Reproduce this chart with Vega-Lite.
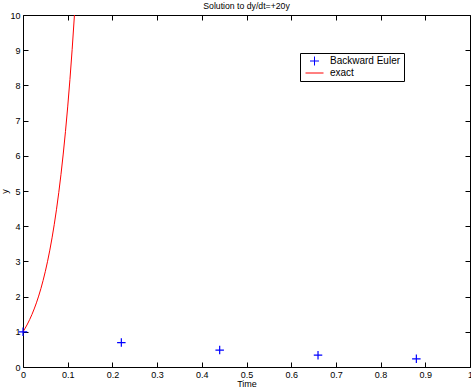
{
  "$schema": "https://vega.github.io/schema/vega-lite/v6.json",
  "width": 447,
  "height": 352,
  "autosize": "none",
  "padding": {"left": 23, "top": 15, "right": 1, "bottom": 25},
  "background": "white",
  "title": {"text": "Solution to dy/dt=+20y", "fontSize": 8.7, "font": "Liberation Sans", "fontWeight": "normal", "offset": 0, "color": "black", "anchor": "middle"},
  "config": {
    "view": {"stroke": null},
    "axis": {"labelFont": "Liberation Sans", "labelFontSize": 9, "labelColor": "black", "titleFont": "Liberation Sans", "titleFontSize": 9, "titleFontWeight": "normal", "titleColor": "black", "domainColor": "black", "tickColor": "black", "grid": false, "tickSize": -5, "domainWidth": 1, "tickWidth": 1}
  },
  "datasets": {
    "exact": [
      {"t": 0, "y": 1, "series": "exact"},
      {"t": 0.005, "y": 1.105, "series": "exact"},
      {"t": 0.01, "y": 1.221, "series": "exact"},
      {"t": 0.015, "y": 1.35, "series": "exact"},
      {"t": 0.02, "y": 1.492, "series": "exact"},
      {"t": 0.025, "y": 1.649, "series": "exact"},
      {"t": 0.03, "y": 1.822, "series": "exact"},
      {"t": 0.035, "y": 2.014, "series": "exact"},
      {"t": 0.04, "y": 2.226, "series": "exact"},
      {"t": 0.045, "y": 2.46, "series": "exact"},
      {"t": 0.05, "y": 2.718, "series": "exact"},
      {"t": 0.055, "y": 3.004, "series": "exact"},
      {"t": 0.06, "y": 3.32, "series": "exact"},
      {"t": 0.065, "y": 3.669, "series": "exact"},
      {"t": 0.07, "y": 4.055, "series": "exact"},
      {"t": 0.075, "y": 4.482, "series": "exact"},
      {"t": 0.08, "y": 4.953, "series": "exact"},
      {"t": 0.085, "y": 5.474, "series": "exact"},
      {"t": 0.09, "y": 6.05, "series": "exact"},
      {"t": 0.095, "y": 6.686, "series": "exact"},
      {"t": 0.1, "y": 7.389, "series": "exact"},
      {"t": 0.105, "y": 8.166, "series": "exact"},
      {"t": 0.11, "y": 9.025, "series": "exact"},
      {"t": 0.1151, "y": 10.0, "series": "exact"}
    ],
    "euler": [
      {"t": 0, "y": 1, "series": "Backward Euler"},
      {"t": 0.22, "y": 0.694, "series": "Backward Euler"},
      {"t": 0.44, "y": 0.482, "series": "Backward Euler"},
      {"t": 0.66, "y": 0.335, "series": "Backward Euler"},
      {"t": 0.88, "y": 0.233, "series": "Backward Euler"}
    ]
  },
  "layer": [
    {
      "data": {"name": "exact"},
      "mark": {"type": "line", "strokeWidth": 1, "clip": true},
      "encoding": {
        "x": {"field": "t", "type": "quantitative", "scale": {"domain": [0, 1], "nice": false}, "axis": {"title": "Time", "format": "~g", "values": [0,0.1,0.2,0.3,0.4,0.5,0.6,0.7,0.8,0.9,1], "labelPadding": 8, "titlePadding": 0, "labelFlush": false, "labelOverlap": false}},
        "y": {"field": "y", "type": "quantitative", "scale": {"domain": [0, 10], "nice": false}, "axis": {"title": "y", "values": [0,1,2,3,4,5,6,7,8,9,10], "labelPadding": 8, "titlePadding": 0, "labelFlush": false, "labelOverlap": false}},
        "color": {"field": "series", "type": "nominal", "scale": {"domain": ["Backward Euler", "exact"], "range": ["blue", "red"]},
          "legend": {"title": null, "orient": "none", "legendX": 277, "legendY": 38, "strokeColor": "black", "fillColor": "white", "padding": 3, "symbolSize": 81, "symbolOffset": 6.5, "labelFont": "Liberation Sans", "labelFontSize": 10, "labelColor": "black", "symbolStrokeWidth": 1, "rowPadding": 0, "labelOffset": 10.5}},
        "shape": {"field": "series", "type": "nominal", "scale": {"domain": ["Backward Euler", "exact"], "range": ["M-1,0L1,0M0,-1L0,1", "M-2,0L2,0"]}, "legend": null}
      }
    },
    {
      "data": {"name": "euler"},
      "mark": {"type": "point", "filled": false, "size": 72, "strokeWidth": 1.2, "opacity": 1},
      "encoding": {
        "x": {"field": "t", "type": "quantitative", "scale": {"domain": [0, 1], "nice": false}, "axis": {"orient": "top", "labels": false, "title": null, "values": [0,0.1,0.2,0.3,0.4,0.5,0.6,0.7,0.8,0.9,1]}},
        "y": {"field": "y", "type": "quantitative", "scale": {"domain": [0, 10], "nice": false}, "axis": {"orient": "right", "labels": false, "title": null, "values": [0,1,2,3,4,5,6,7,8,9,10]}},
        "color": {"field": "series", "type": "nominal"},
        "shape": {"field": "series", "type": "nominal"}
      }
    }
  ],
  "resolve": {"axis": {"x": "independent", "y": "independent"}}
}
